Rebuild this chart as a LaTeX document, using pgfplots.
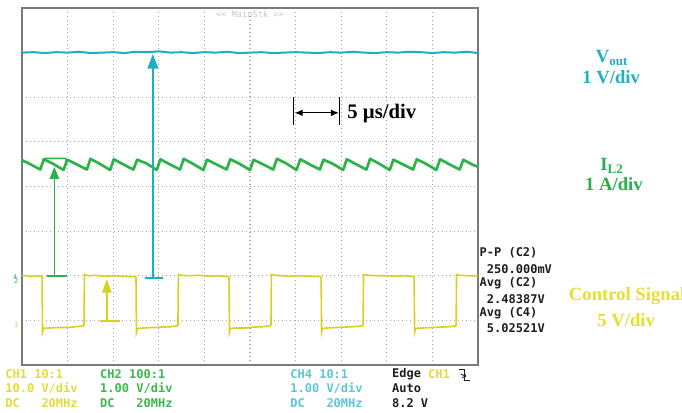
\documentclass[border=0pt]{standalone}
\usepackage{fontspec}
\setmainfont{Liberation Serif}
\newfontfamily\scopefont{DejaVu Sans Mono}
\usepackage{pgfplots}
\pgfplotsset{compat=1.18}
\usetikzlibrary{arrows.meta}

\definecolor{vcyan}{HTML}{1AB0C2}
\definecolor{igreen}{HTML}{2BB34A}
\definecolor{cyellow}{HTML}{D6D01E}
\definecolor{lblcyan}{HTML}{1DB1C3}
\definecolor{lblgreen}{HTML}{2AAE4C}
\definecolor{lblyellow}{HTML}{E6DF2E}
\definecolor{txtcyan}{HTML}{5CC6D6}
\definecolor{txtgreen}{HTML}{3CB84E}
\definecolor{txtyellow}{HTML}{E2DC3A}
\definecolor{framec}{HTML}{7A7A7A}
\definecolor{gridc}{HTML}{A8A8A8}
\definecolor{meas}{HTML}{1E1E1E}

\begin{document}
\begin{tikzpicture}
\begin{axis}[
  at={(16.5pt,36pt)}, anchor=south west,
  scale only axis, width=342pt, height=267.75pt,
  xmin=0, xmax=10, ymin=0, ymax=8,
  xtick={0,...,10}, ytick={0,...,8},
  xticklabels={}, yticklabels={},
  major tick length=0pt,
  grid=major,
  grid style={gridc, line width=0.9pt, dash pattern=on 0.9pt off 2.1pt},
  axis line style={framec, line width=1.4pt},
  clip=false,
]

% Vout (CH4), 1 V/div
\addplot[vcyan, line width=1.5pt] coordinates {
(0,7.00) (0.25,7.01) (0.5,6.99) (0.75,7.01) (1,7.00) (1.25,7.02) (1.5,6.99)
(1.75,7.00) (2,7.01) (2.25,6.99) (2.5,7.02) (2.75,7.01) (3,7.03) (3.25,7.00)
(3.5,7.01) (3.75,6.99) (4,7.01) (4.25,7.00) (4.5,7.02) (4.75,6.99) (5,7.00)
(5.25,7.01) (5.5,6.99) (5.75,7.00) (6,7.01) (6.25,7.00) (6.5,6.99) (6.75,7.01)
(7,7.00) (7.25,7.02) (7.5,7.00) (7.75,6.99) (8,7.01) (8.25,7.00) (8.5,7.02)
(8.75,7.01) (9,6.99) (9.25,7.01) (9.5,7.00) (9.75,7.02) (10,6.99)
};

% Inductor current IL2 (CH2), 1 A/div
\addplot[igreen, line width=2pt, line join=round] coordinates {
(0,4.59) (0.20,4.49) (0.400,4.38) (0.480,4.61) (0.680,4.51)
(0.911,4.37) (0.991,4.60) (1.191,4.50)
(1.422,4.38) (1.502,4.62) (1.702,4.51)
(1.933,4.37) (2.013,4.61) (2.213,4.50)
(2.444,4.38) (2.524,4.60) (2.724,4.52)
(2.955,4.37) (3.035,4.61) (3.235,4.50)
(3.466,4.38) (3.546,4.62) (3.746,4.51)
(3.977,4.37) (4.057,4.60) (4.257,4.50)
(4.488,4.38) (4.568,4.61) (4.768,4.51)
(4.999,4.37) (5.079,4.60) (5.279,4.50)
(5.510,4.38) (5.590,4.62) (5.790,4.52)
(6.021,4.37) (6.101,4.61) (6.301,4.50)
(6.532,4.38) (6.612,4.60) (6.812,4.51)
(7.043,4.37) (7.123,4.61) (7.323,4.50)
(7.554,4.38) (7.634,4.62) (7.834,4.51)
(8.065,4.37) (8.145,4.60) (8.345,4.50)
(8.576,4.38) (8.656,4.61) (8.856,4.51)
(9.087,4.37) (9.167,4.61) (9.367,4.50)
(9.598,4.38) (9.678,4.60) (9.878,4.49) (10,4.44)
};

% Control signal (CH1), 5 V/div
\addplot[cyellow, line width=1.2pt] coordinates {
(0,2.01) (0.1,2.00) (0.2,1.98) (0.3,2.00) (0.43,1.99)
(0.44,1.96) (0.45,0.74) (0.47,0.82) (0.6,0.83) (0.8,0.84) (1.0,0.84) (1.2,0.86) (1.35,0.88)
(1.36,0.90) (1.37,2.03) (1.45,2.00) (1.6,2.01) (1.8,1.99) (2.0,2.00) (2.2,1.99) (2.4,1.98) (2.49,1.98)
(2.50,1.95) (2.51,0.74) (2.53,0.82) (2.7,0.83) (2.9,0.84) (3.1,0.85) (3.3,0.86) (3.41,0.88)
(3.42,0.90) (3.43,2.03) (3.5,2.01) (3.7,2.00) (3.9,2.01) (4.1,1.99) (4.3,2.00) (4.53,1.98)
(4.54,1.95) (4.55,0.74) (4.57,0.82) (4.7,0.83) (4.9,0.83) (5.1,0.85) (5.3,0.86) (5.45,0.88)
(5.46,0.90) (5.47,2.03) (5.55,2.01) (5.7,2.00) (5.9,1.99) (6.1,2.00) (6.3,1.99) (6.55,1.98)
(6.56,1.95) (6.57,0.74) (6.59,0.82) (6.7,0.83) (6.9,0.84) (7.1,0.85) (7.3,0.86) (7.47,0.88)
(7.48,0.90) (7.49,2.03) (7.6,2.01) (7.8,2.00) (8.0,2.00) (8.2,1.99) (8.4,2.00) (8.59,1.98)
(8.60,1.95) (8.61,0.74) (8.63,0.82) (8.8,0.83) (9.0,0.84) (9.2,0.85) (9.4,0.86) (9.51,0.88)
(9.52,0.90) (9.53,2.03) (9.6,2.01) (9.8,2.00) (10,2.00)
};

% ripple and level markers
\draw[igreen, line width=1.3pt] (axis cs:0.55,2.0) -- (axis cs:0.99,2.0);
\draw[igreen, line width=1.3pt, -{Triangle[length=9pt,width=7pt]}] (axis cs:0.71,2.0) -- (axis cs:0.71,4.44);
\draw[igreen, line width=1.1pt] (axis cs:0.45,4.55) -- (axis cs:0.50,4.63) -- (axis cs:0.95,4.63) -- (axis cs:0.99,4.56);

\draw[vcyan, line width=1.3pt] (axis cs:2.70,1.95) -- (axis cs:3.09,1.95);
\draw[vcyan, line width=1.3pt, -{Triangle[length=11pt,width=8pt]}] (axis cs:2.87,1.95) -- (axis cs:2.87,6.97);

\draw[cyellow, line width=1.3pt] (axis cs:1.71,0.99) -- (axis cs:2.15,0.99);
\draw[cyellow, line width=1.3pt, -{Triangle[length=10pt,width=7pt]}] (axis cs:1.86,0.99) -- (axis cs:1.86,1.92);

% time base
\draw[black, line width=0.8pt] (axis cs:5.96,5.38) -- (axis cs:5.96,6.0);
\draw[black, line width=0.8pt] (axis cs:6.97,5.38) -- (axis cs:6.97,6.0);
\draw[black, line width=0.8pt, {Latex[length=6pt,width=5pt]}-{Latex[length=6pt,width=5pt]}] (axis cs:5.98,5.65) -- (axis cs:6.95,5.65);
\node[anchor=west, inner sep=0pt, font=\fontsize{15.5}{17}\selectfont\bfseries] at (axis cs:7.13,5.63) {5 µs/div};

% header
\node[text=gray!45, font=\scopefont\fontsize{6.5}{7}\selectfont] at (axis cs:5.0,7.87) {<< MainStk >>};

% channel ground markers
\node[text=vcyan, font=\scopefont\fontsize{5}{5}\selectfont, inner sep=0pt] at (axis cs:-0.15,1.97) {4};
\node[text=igreen, font=\scopefont\fontsize{5}{5}\selectfont, inner sep=0pt] at (axis cs:-0.13,1.88) {2};
\node[text=cyellow, font=\scopefont\fontsize{5}{5}\selectfont, inner sep=0pt] at (axis cs:-0.13,0.90) {1};

% channel labels
\node[text=lblcyan, font=\fontsize{14}{16}\selectfont\bfseries] at (axis cs:12.94,6.88) {V\textsubscript{out}};
\node[text=lblcyan, font=\fontsize{14}{16}\selectfont\bfseries] at (axis cs:12.92,6.45) {1 V/div};
\node[text=lblgreen, font=\fontsize{14}{16}\selectfont\bfseries] at (axis cs:12.94,4.47) {I\textsubscript{L2}};
\node[text=lblgreen, font=\fontsize{14}{16}\selectfont\bfseries] at (axis cs:12.98,4.06) {1 A/div};
\node[text=lblyellow, font=\fontsize{14}{16}\selectfont\bfseries] at (axis cs:13.27,1.55) {Control Signal};
\node[text=lblyellow, font=\fontsize{14}{16}\selectfont\bfseries] at (axis cs:13.25,1.01) {5 V/div};

% measurements
\begin{scope}[every node/.style={anchor=west, inner sep=0pt, text=meas, font=\scopefont\bfseries\fontsize{9}{10}\selectfont}]
\node at (axis cs:10.03,2.51) {P-P (C2)};
\node at (axis cs:10.19,2.15) {250.000mV};
\node at (axis cs:10.03,1.84) {Avg (C2)};
\node at (axis cs:10.19,1.48) {2.48387V};
\node at (axis cs:10.03,1.17) {Avg (C4)};
\node at (axis cs:10.19,0.83) {5.02521V};
\end{scope}

% channel settings
\begin{scope}[every node/.style={anchor=west, inner sep=0pt, font=\scopefont\bfseries\fontsize{9}{10}\selectfont}]
\node[text=txtyellow] at (axis cs:-0.37,-0.20) {CH1 10:1};
\node[text=txtyellow] at (axis cs:-0.37,-0.52) {10.0 V/div};
\node[text=txtyellow] at (axis cs:-0.37,-0.85) {DC\ \ \ 20MHz};
\node[text=txtgreen] at (axis cs:1.71,-0.20) {CH2 100:1};
\node[text=txtgreen] at (axis cs:1.71,-0.52) {1.00 V/div};
\node[text=txtgreen] at (axis cs:1.71,-0.85) {DC\ \ \ 20MHz};
\node[text=txtcyan] at (axis cs:5.88,-0.20) {CH4 10:1};
\node[text=txtcyan] at (axis cs:5.88,-0.52) {1.00 V/div};
\node[text=txtcyan] at (axis cs:5.88,-0.85) {DC\ \ \ 20MHz};
\node[text=meas] at (axis cs:8.11,-0.20) {Edge};
\node[text=txtyellow] at (axis cs:8.90,-0.20) {CH1};
\node[text=meas] at (axis cs:8.11,-0.52) {Auto};
\node[text=meas] at (axis cs:8.11,-0.85) {8.2 V};
\end{scope}
% falling-edge trigger symbol
\draw[meas, line width=0.7pt] (axis cs:9.58,-0.10) -- (axis cs:9.70,-0.10) -- (axis cs:9.70,-0.34) -- (axis cs:9.82,-0.34);
\draw[meas, line width=0.6pt, -{Straight Barb[length=2pt]}] (axis cs:9.62,-0.20) -- (axis cs:9.74,-0.26);
\end{axis}
\pgfresetboundingbox
\useasboundingbox (0,0) rectangle (511.5pt,309.75pt);
\end{tikzpicture}
\end{document}
